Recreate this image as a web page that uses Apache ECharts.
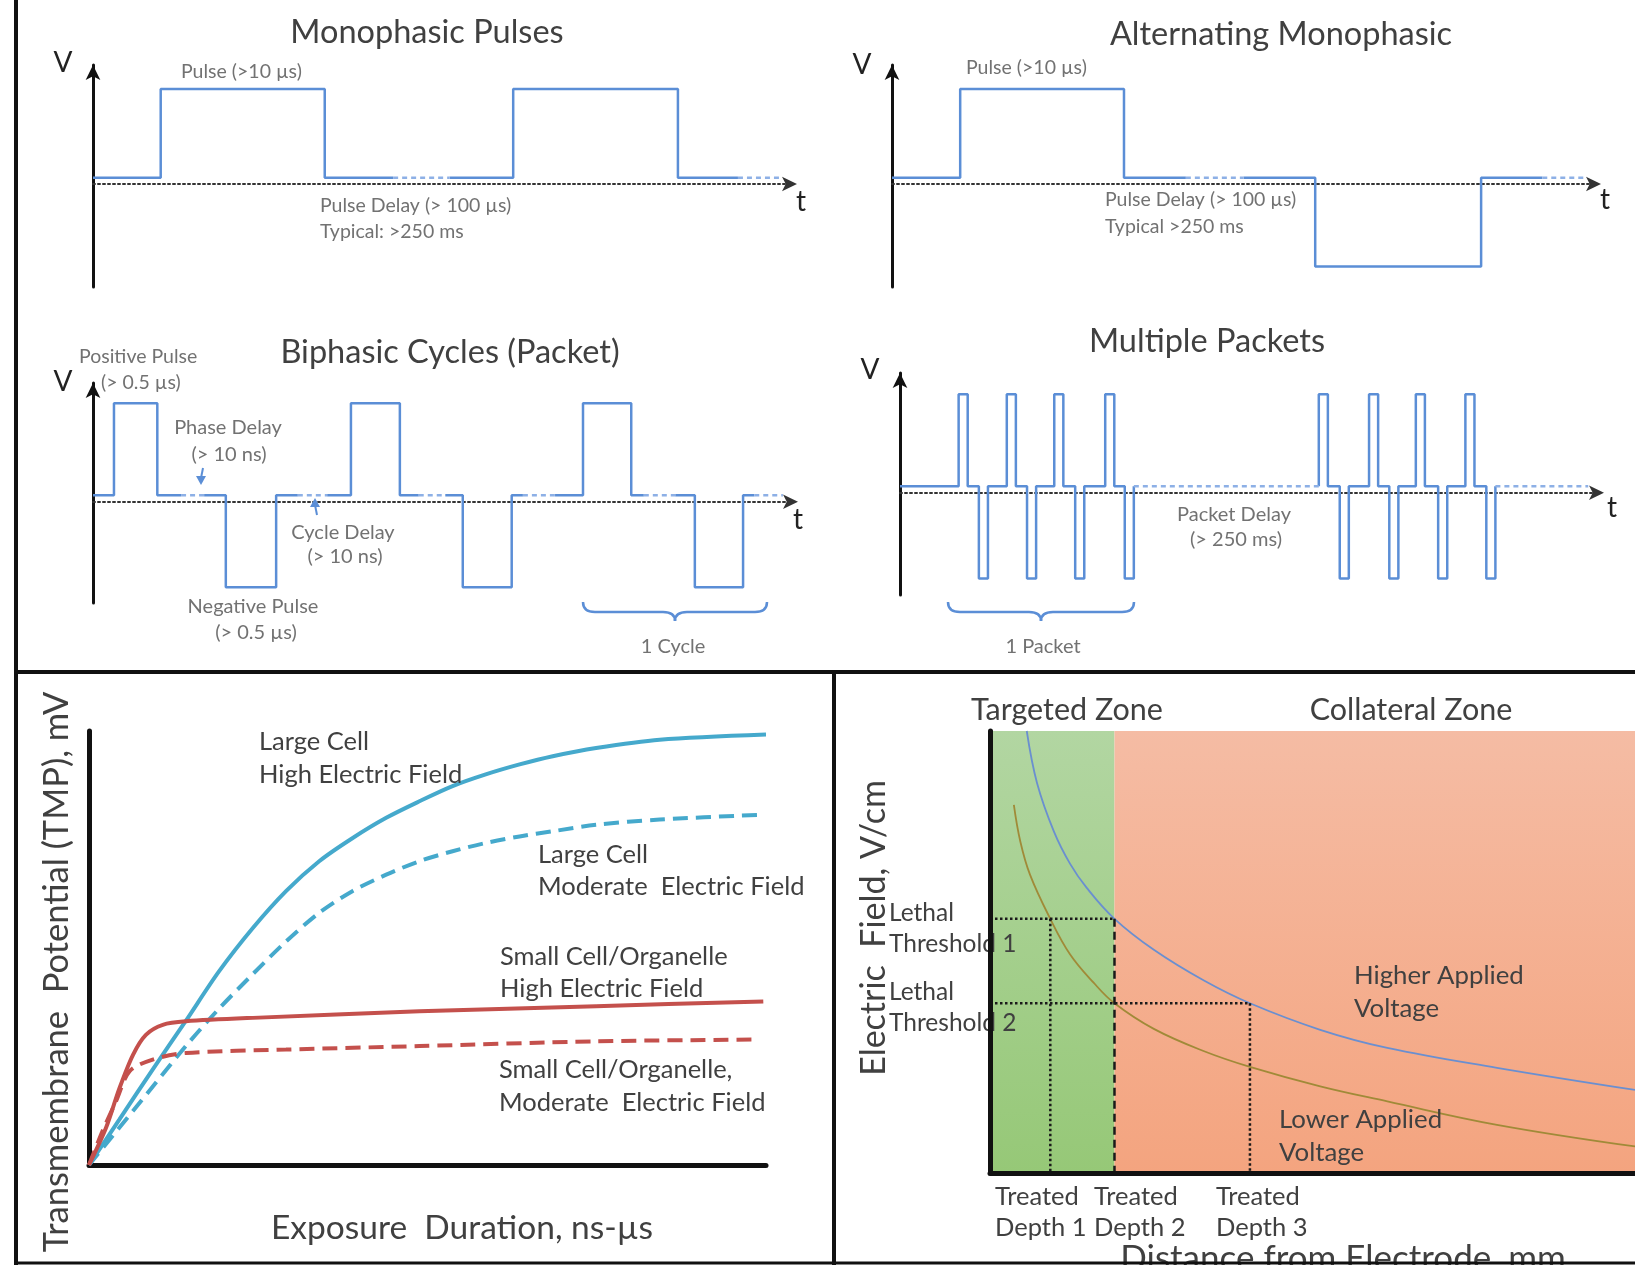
<!DOCTYPE html>
<html>
<head>
<meta charset="utf-8">
<script src="https://cdn.jsdelivr.net/npm/echarts@6/dist/echarts.min.js"></script>
<style>
  html, body { margin: 0; padding: 0; background: #fff; }
  #chart { width: 1635px; height: 1265px; }
</style>
</head>
<body>
<div id="chart"></div>
<script>
// ---- data ----
// waveform panels: t runs 0..100 along the time axis, voltage in pulse heights
var BASE = 0.07;   // signal rest level sits just above the dotted t axis

var monoPulses = [[9.7, 33.2, 1], [60.2, 83.8, 1]];
var monoGaps = [[43.0, 51.1], [92.4, 98.4]];

var altPulses = [[9.7, 33.0, 1], [60.2, 83.8, -1]];
var altGaps = [[41.8, 50.0], [92.5, 98.4]];

var biPulses = [[3.0, 9.2, 1], [19.0, 26.2, -1], [36.9, 43.9, 1], [52.9, 59.9, -1], [70.1, 77.0, 1], [86.1, 93.0, -1]];
var biGaps = [[12.6, 15.9], [29.3, 33.5], [46.6, 50.4], [61.5, 66.1], [78.8, 83.3], [94.6, 98.7]];

var packetPulses = [
  [8.4, 9.7, 1], [11.3, 12.6, -1], [15.3, 16.6, 1], [18.2, 19.5, -1],
  [22.1, 23.4, 1], [25.1, 26.4, -1], [29.4, 30.7, 1], [32.2, 33.5, -1],
  [60.0, 61.3, 1], [63.0, 64.3, -1], [67.2, 68.5, 1], [70.1, 71.4, -1],
  [73.9, 75.2, 1], [77.1, 78.4, -1], [81.0, 82.3, 1], [84.0, 85.3, -1]
];
var packetGaps = [[33.5, 60.0], [85.3, 98.6]];

// transmembrane potential vs exposure duration (0..100 on both axes)
var tmpLargeHigh = [[0, 0], [4.5, 10.5], [9.4, 22], [14.3, 33.2], [19.2, 44.6], [24.2, 54.6], [29.1, 63.1], [34, 70], [38.9, 75.3], [43.9, 80], [48.8, 83.8], [53.7, 87.3], [58.6, 90], [63.6, 92.3], [68.5, 94.2], [74.9, 96.1], [84.3, 98], [100, 99.2]];
var tmpLargeMod = [[0, 0], [7, 13.4], [14.3, 27.4], [19.2, 36], [24.2, 44], [29.1, 51.5], [34, 58.1], [38.9, 63.1], [43.9, 66.9], [48.8, 70], [53.7, 72.3], [58.6, 74.2], [63.6, 75.7], [68.5, 76.9], [74.9, 78.4], [84.3, 79.6], [99.4, 80.7]];
var tmpSmallHigh = [[0, 0], [2.5, 8.5], [4.5, 17.7], [6.5, 25.4], [8.4, 30], [10.9, 32.3], [14.3, 33.1], [24.2, 33.9], [48.8, 35.4], [74.9, 36.6], [99.6, 37.7]];
var tmpSmallMod = [[0, 0], [2, 7.8], [4, 14.7], [6, 21.6], [9.4, 24.3], [14.3, 25.8], [29.1, 26.6], [48.8, 27.4], [74.9, 28.5], [98.6, 28.9]];

// electric field vs distance from electrode (0..100 on both axes)
var fieldHigh = [[5.7, 100], [7.3, 88.2], [9.9, 77.3], [12.4, 70], [15, 64.5], [19.3, 57.5], [25.4, 50.5], [33.1, 43.6], [40.3, 38.4], [51.2, 32.4], [61.6, 28.3], [78.6, 23.8], [100, 18.8]];
var fieldLow = [[3.7, 83.3], [4.7, 75], [6.2, 67.5], [9.35, 57.5], [12.4, 49.5], [16.1, 43], [19.3, 38.4], [25.4, 32.6], [33.1, 27.6], [40.3, 24], [51.2, 19.6], [61.6, 16.2], [78.6, 10.9], [100, 6]];
var lethal = [57.5, 38.4];          // threshold 1, threshold 2
var depths = [9.35, 19.3, 40.3];    // treated depth 1, 2, 3

// ---- helpers ----
var FONT = 'Lato, "Open Sans", sans-serif';
var WAVE = '#5b8ed6';

function stepWave(pulses, tEnd) {
  var pts = [[0, BASE]];
  pulses.forEach(function (p) {
    var lv = BASE + p[2];
    pts.push([p[0], BASE], [p[0], lv], [p[1], lv], [p[1], BASE]);
  });
  pts.push([tEnd, BASE]);
  return pts;
}

function splitAtGaps(pts, gaps) {
  var segs = [], cur = [pts[0]];
  for (var i = 1; i < pts.length; i++) {
    var q = pts[i - 1], p = pts[i];
    if (q[1] === BASE && p[1] === BASE) {
      gaps.forEach(function (g) {
        if (g[0] >= q[0] - 1e-6 && g[1] <= p[0] + 1e-6) {
          cur.push([g[0], BASE]);
          segs.push(cur);
          cur = [[g[1], BASE]];
        }
      });
    }
    cur.push(p);
  }
  segs.push(cur);
  return segs.filter(function (s) { return s.length > 2 || s[s.length - 1][0] - s[0][0] > 1e-6; });
}

function lineSeries(i, data, style, extra) {
  var s = {
    type: 'line', xAxisIndex: i, yAxisIndex: i, data: data,
    symbol: 'none', silent: true, z: 3, lineStyle: style
  };
  for (var k in extra) s[k] = extra[k];
  return s;
}

function waveSeries(i, pulses, gaps) {
  var tEnd = gaps[gaps.length - 1][1];
  var out = [];
  splitAtGaps(stepWave(pulses, tEnd), gaps).forEach(function (seg) {
    out.push(lineSeries(i, seg, { color: WAVE, width: 2.5 }));
  });
  gaps.forEach(function (g) {
    out.push(lineSeries(i, [[g[0], BASE], [g[1], BASE]], { color: '#8db0e6', width: 2.5, type: [5, 4] }));
  });
  return out;
}

function waveAxes(i, yMin, yMax) {
  return {
    x: {
      gridIndex: i, type: 'value', min: 0, max: 100,
      axisLine: { onZero: true, symbol: ['none', 'arrow'], symbolSize: [11, 15], symbolOffset: [0, 6],
        lineStyle: { color: '#333', type: [2, 3], width: 2 } },
      axisTick: { show: false }, axisLabel: { show: false }, splitLine: { show: false }
    },
    y: {
      gridIndex: i, type: 'value', min: yMin, max: yMax,
      axisLine: { show: true, symbol: ['none', 'arrow'], symbolSize: [11, 15],
        lineStyle: { color: '#111', width: 3 } },
      axisTick: { show: false }, axisLabel: { show: false }, splitLine: { show: false }
    }
  };
}

function plainAxes(i, z) {
  return {
    x: {
      gridIndex: i, type: 'value', min: 0, max: 100, z: z,
      axisLine: { onZero: false, lineStyle: { color: '#111', width: 5 } },
      axisTick: { show: false }, axisLabel: { show: false }, splitLine: { show: false }
    },
    y: {
      gridIndex: i, type: 'value', min: 0, max: 100, z: z,
      axisLine: { show: true, onZero: false, lineStyle: { color: '#111', width: 5 } },
      axisTick: { show: false }, axisLabel: { show: false }, splitLine: { show: false }
    }
  };
}

function label(text, x, y, size, opt) {
  opt = opt || {};
  return {
    type: 'text', x: x, y: y, z: opt.z || 20, rotation: opt.rot || 0, silent: true,
    style: {
      text: text, fill: opt.color || '#404040', font: size + 'px ' + FONT,
      textAlign: opt.align || 'left', textVerticalAlign: opt.valign || 'middle'
    }
  };
}

function frameLine(x1, y1, x2, y2, w) {
  return { type: 'line', z: 30, silent: true, shape: { x1: x1, y1: y1, x2: x2, y2: y2 },
    style: { stroke: '#111', lineWidth: w || 4 } };
}

function seg(x1, y1, x2, y2, color, w) {
  return { type: 'line', z: 20, silent: true, shape: { x1: x1, y1: y1, x2: x2, y2: y2 },
    style: { stroke: color, lineWidth: w } };
}

function curve(x1, y1, cx, cy, x2, y2) {
  return { type: 'bezierCurve', z: 20, silent: true,
    shape: { x1: x1, y1: y1, cpx1: cx, cpy1: cy, x2: x2, y2: y2 },
    style: { stroke: WAVE, lineWidth: 2.5, fill: null } };
}

function brace(x0, x1, y) {
  var m = (x0 + x1) / 2;
  return [
    curve(x0, y - 10, x0, y, x0 + 12, y),
    seg(x0 + 12, y, m - 12, y, WAVE, 2.5),
    curve(m - 12, y, m, y, m, y + 9),
    curve(m, y + 9, m, y, m + 12, y),
    seg(m + 12, y, x1 - 12, y, WAVE, 2.5),
    curve(x1 - 12, y, x1, y, x1, y - 10)
  ];
}

// ---- axes ----
var ax = [
  waveAxes(0, -1.16, 1.34),
  waveAxes(1, -1.16, 1.34),
  waveAxes(2, -1.10, 1.29),
  waveAxes(3, -1.11, 1.30),
  plainAxes(4, 0),
  plainAxes(5, 10)
];

// ---- series ----
var series = []
  .concat(waveSeries(0, monoPulses, monoGaps))
  .concat(waveSeries(1, altPulses, altGaps))
  .concat(waveSeries(2, biPulses, biGaps))
  .concat(waveSeries(3, packetPulses, packetGaps));

var BLUE = '#45a9cc', RED = '#c4504c';
series.push(lineSeries(4, tmpLargeHigh, { color: BLUE, width: 4 }, { smooth: 0.3 }));
series.push(lineSeries(4, tmpLargeMod, { color: BLUE, width: 4, type: [15, 8] }, { smooth: 0.3 }));
series.push(lineSeries(4, tmpSmallHigh, { color: RED, width: 4 }, { smooth: 0.3 }));
series.push(lineSeries(4, tmpSmallMod, { color: RED, width: 4, type: [15, 8] }, { smooth: 0.3 }));

// zones behind the field curves
series.push(lineSeries(5, [], { width: 0 }, {
  z: 1,
  markArea: {
    silent: true,
    data: [
      [{ xAxis: 0, yAxis: 0, itemStyle: { color: new echarts.graphic.LinearGradient(0, 0, 0, 1, [
          { offset: 0, color: '#b2d6a2' }, { offset: 1, color: '#96c877' }]) } },
       { xAxis: depths[1], yAxis: 100 }],
      [{ xAxis: depths[1], yAxis: 0, itemStyle: { color: new echarts.graphic.LinearGradient(0, 0, 0, 1, [
          { offset: 0, color: '#f5bca4' }, { offset: 1, color: '#f4a47f' }]) } },
       { xAxis: 100, yAxis: 100 }]
    ]
  }
}));
var dotted = { color: '#1a1a1a', width: 2.5, type: [2.5, 2.5] };
[
  [[0, lethal[0]], [depths[1], lethal[0]]],
  [[0, lethal[1]], [depths[2], lethal[1]]],
  [[depths[0], lethal[0]], [depths[0], 0]],
  [[depths[2], lethal[1]], [depths[2], 0]]
].forEach(function (d) { series.push(lineSeries(5, d, dotted, { z: 4 })); });
series.push(lineSeries(5, [[depths[1], lethal[0]], [depths[1], 0]], { color: '#1a1a1a', width: 2.5, type: [8, 5] }, { z: 4 }));
series.push(lineSeries(5, fieldHigh, { color: '#6a8fd0', width: 1.8 }, { smooth: 0.4, z: 3 }));
series.push(lineSeries(5, fieldLow, { color: '#a08a38', width: 1.8 }, { smooth: 0.4, z: 3 }));

// ---- annotations ----
var G = '#727272';
var graphics = [
  frameLine(16, 0, 16, 1265),
  frameLine(16, 672, 1635, 672),
  frameLine(834, 672, 834, 1265),
  frameLine(16, 1263, 1635, 1263, 3),

  // monophasic
  label('Monophasic Pulses', 427, 33, 32.5, { align: 'center' }),
  label('V', 63, 63, 28, { align: 'center', color: '#222' }),
  label('t', 801, 202, 28, { align: 'center', color: '#222' }),
  label('Pulse (>10 \u00b5s)', 181, 72, 19.5, { color: G }),
  label('Pulse Delay (> 100 \u00b5s)', 320, 206, 19.5, { color: G }),
  label('Typical: >250 ms', 320, 232, 19.5, { color: G }),

  // alternating
  label('Alternating Monophasic', 1281, 35, 32.5, { align: 'center' }),
  label('V', 862, 65, 28, { align: 'center', color: '#222' }),
  label('t', 1605, 200, 28, { align: 'center', color: '#222' }),
  label('Pulse (>10 \u00b5s)', 966, 68, 19.5, { color: G }),
  label('Pulse Delay (> 100 \u00b5s)', 1105, 200, 19.5, { color: G }),
  label('Typical >250 ms', 1105, 227, 19.5, { color: G }),

  // biphasic
  label('Biphasic Cycles (Packet)', 450, 353, 32.5, { align: 'center' }),
  label('V', 63, 382, 28, { align: 'center', color: '#222' }),
  label('t', 798, 520, 28, { align: 'center', color: '#222' }),
  label('Positive Pulse', 79, 357, 19.5, { color: G }),
  label('(> 0.5 \u00b5s)', 101, 383, 19.5, { color: G }),
  label('Phase Delay', 228, 428, 20, { color: G, align: 'center' }),
  label('(> 10 ns)', 229, 455, 20, { color: G, align: 'center' }),
  label('Cycle Delay', 343, 533, 20, { color: G, align: 'center' }),
  label('(> 10 ns)', 345, 557, 20, { color: G, align: 'center' }),
  label('Negative Pulse', 253, 607, 20, { color: G, align: 'center' }),
  label('(> 0.5 \u00b5s)', 256, 633, 20, { color: G, align: 'center' }),
  label('1 Cycle', 673, 647, 20, { color: G, align: 'center' }),
  seg(203, 468, 201, 478, WAVE, 2),
  { type: 'polygon', z: 20, silent: true, shape: { points: [[196, 476], [201, 485], [206, 476]] }, style: { fill: WAVE } },
  seg(317, 515, 315, 505, WAVE, 2),
  { type: 'polygon', z: 20, silent: true, shape: { points: [[310, 507], [315, 498], [320, 507]] }, style: { fill: WAVE } },

  // packets
  label('Multiple Packets', 1207, 342, 32.5, { align: 'center' }),
  label('V', 870, 370, 28, { align: 'center', color: '#222' }),
  label('t', 1612, 508, 28, { align: 'center', color: '#222' }),
  label('Packet Delay', 1234, 515, 20, { color: G, align: 'center' }),
  label('(> 250 ms)', 1236, 540, 20, { color: G, align: 'center' }),
  label('1 Packet', 1043, 647, 20, { color: G, align: 'center' }),

  // transmembrane potential
  label('Transmembrane  Potential (TMP), mV', 57, 972, 34.5, { align: 'center', rot: Math.PI / 2 }),
  label('Exposure  Duration, ns-\u00b5s', 462, 1228, 33.5, { align: 'center' }),
  label('Large Cell', 259, 742, 25.5),
  label('High Electric Field', 259, 775, 25.5),
  label('Large Cell', 538, 855, 25.5),
  label('Moderate  Electric Field', 538, 887, 25.5),
  label('Small Cell/Organelle', 500, 957, 25.5),
  label('High Electric Field', 500, 989, 25.5),
  label('Small Cell/Organelle,', 499, 1070, 25.5),
  label('Moderate  Electric Field', 499, 1103, 25.5),

  // electric field
  label('Targeted Zone', 1067, 710, 30.5, { align: 'center' }),
  label('Collateral Zone', 1411, 710, 30.5, { align: 'center' }),
  label('Electric  Field, V/cm', 874, 928, 34, { align: 'center', rot: Math.PI / 2 }),
  label('Lethal', 889, 913, 24.5, { z: 5 }),
  label('Threshold 1', 889, 944, 24.5, { z: 5 }),
  label('Lethal', 889, 992, 24.5, { z: 5 }),
  label('Threshold 2', 889, 1023, 24.5, { z: 5 }),
  label('Higher Applied', 1354, 976, 25.8),
  label('Voltage', 1354, 1009, 25.8),
  label('Lower Applied', 1279, 1120, 25.8),
  label('Voltage', 1279, 1153, 25.8),
  label('Treated', 995, 1197, 25.5),
  label('Depth 1', 995, 1228, 25.5),
  label('Treated', 1094, 1197, 25.5),
  label('Depth 2', 1094, 1228, 25.5),
  label('Treated', 1216, 1197, 25.5),
  label('Depth 3', 1216, 1228, 25.5),
  label('Distance from Electrode, mm', 1343, 1241, 35, { align: 'center', valign: 'top' })
].concat(brace(583, 767, 612), brace(948, 1134, 612));

var chart = echarts.init(document.getElementById('chart'));
chart.setOption({
  animation: false,
  backgroundColor: '#fff',
  textStyle: { fontFamily: FONT },
  grid: [
    { left: 93, top: 65, width: 698, height: 222 },
    { left: 892, top: 65, width: 703, height: 222 },
    { left: 93, top: 383, width: 699, height: 220 },
    { left: 900, top: 373, width: 698, height: 222 },
    { left: 89, top: 731, width: 677, height: 434 },
    { left: 990, top: 731, width: 645, height: 442 }
  ],
  xAxis: ax.map(function (a) { return a.x; }),
  yAxis: ax.map(function (a) { return a.y; }),
  series: series,
  graphic: graphics
});
</script>
</body>
</html>
